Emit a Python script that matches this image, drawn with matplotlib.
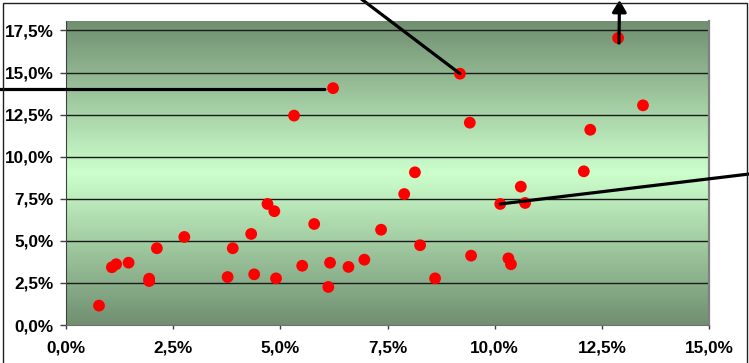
import numpy as np
import matplotlib
matplotlib.use("Agg")
import matplotlib.pyplot as plt
from matplotlib.patches import Rectangle
from matplotlib.ticker import FuncFormatter

# Scatter data (percent)
x_vals = [6.23, 5.32, 12.88, 9.19, 13.46, 9.42, 12.23, 8.14, 12.08, 0.77,
          1.07, 1.17, 1.46, 1.94, 1.94, 2.12, 2.76, 3.77, 3.89, 4.32,
          4.39, 4.70, 4.86, 4.90, 5.51, 5.79, 6.12, 6.16, 6.59, 6.96,
          7.35, 7.89, 8.26, 8.61, 9.45, 10.13, 10.32, 10.38, 10.61, 10.71]
y_vals = [14.07, 12.44, 17.05, 14.93, 13.05, 12.02, 11.60, 9.07, 9.13, 1.15,
          3.43, 3.61, 3.70, 2.75, 2.61, 4.56, 5.23, 2.85, 4.56, 5.41,
          3.01, 7.19, 6.76, 2.77, 3.52, 6.00, 2.26, 3.70, 3.45, 3.88,
          5.66, 7.78, 4.74, 2.77, 4.12, 7.19, 3.96, 3.61, 8.22, 7.25]

x_ticks = [0, 2.5, 5, 7.5, 10, 12.5, 15]
y_ticks = [0, 2.5, 5, 7.5, 10, 12.5, 15, 17.5]

W, H = 749, 363
fig = plt.figure(figsize=(W / 100, H / 100), dpi=100)
plt.rcParams['font.family'] = ['Liberation Sans', 'DejaVu Sans']

ax = fig.add_axes([66 / W, 1 - 325 / H, (709 - 66) / W, (325 - 21) / H])
ax.set_xlim(0, 15)
ax.set_ylim(0, 18.06)

# Background gradient: dark green at the edges, pale green in the middle
dark = np.array([112, 143, 112]) / 255
light = np.array([204, 255, 204]) / 255
t = np.linspace(0, 1, 400)
w = 1 - np.abs(t - 0.5) * 2          # 0 at edges, 1 at centre
grad = dark[None, :] * (1 - w[:, None]) + light[None, :] * w[:, None]
img = np.repeat(grad[:, None, :], 2, axis=1)
ax.imshow(img, extent=[0, 1, 0, 1], transform=ax.transAxes,
          aspect='auto', zorder=0, origin='upper')

# Horizontal gridlines
for yv in y_ticks[1:]:
    ax.axhline(yv, color='#1a1a1a', lw=1.0, zorder=1)

ax.scatter(x_vals, y_vals, s=72, color='#ff0000', edgecolors='none', zorder=3)

fmt = FuncFormatter(lambda v, p: f"{v:.1f}%".replace('.', ','))
ax.set_xticks(x_ticks)
ax.set_yticks(y_ticks)
ax.xaxis.set_major_formatter(fmt)
ax.yaxis.set_major_formatter(fmt)
for lbl in ax.get_xticklabels() + ax.get_yticklabels():
    lbl.set_fontweight('bold')
    lbl.set_fontsize(12.3)
ax.tick_params(axis='y', direction='out', length=4, width=1, pad=5, color='#404040')
ax.tick_params(axis='x', direction='out', length=3, width=1, pad=8, color='#404040')

ax.spines['top'].set_visible(False)
ax.spines['left'].set_color('#404040')
ax.spines['bottom'].set_color('#707070')
ax.spines['right'].set_color('#808080')
ax.spines['right'].set_linewidth(1.6)

# Callout lines (data end, far end in figure pixels)
def fpx(px, py):
    return (px / W, 1 - py / H)

line_kw = dict(arrowstyle='-', lw=2.3, color='black', shrinkA=0, shrinkB=0)
ax.annotate("", xy=(6.04, 13.99), xycoords='data', xytext=fpx(-5, 89.5),
            textcoords='figure fraction', arrowprops=line_kw, annotation_clip=False)
ax.annotate("", xy=(x_vals[3], y_vals[3]), xycoords='data', xytext=fpx(360, -2),
            textcoords='figure fraction', arrowprops=line_kw, annotation_clip=False)
ax.annotate("", xy=(x_vals[35], y_vals[35]), xycoords='data', xytext=fpx(760, 172.7),
            textcoords='figure fraction', arrowprops=line_kw, annotation_clip=False)
ax.annotate("", xy=fpx(619.5, 0), xycoords='figure fraction',
            xytext=(12.9, y_vals[2] - 0.3), textcoords='data',
            arrowprops=dict(arrowstyle='-|>,head_length=0.7,head_width=0.42',
                            mutation_scale=10, lw=2.3, color='black',
                            shrinkA=0, shrinkB=0),
            annotation_clip=False)

# Outer chart frame
fig.patches.append(Rectangle((3 / W, -0.05), (747 - 3) / W, 1 - 3 / H + 0.05,
                             transform=fig.transFigure, fill=False,
                             edgecolor='#202020', lw=1.0, zorder=0))

fig.savefig("out.png", dpi=100)
